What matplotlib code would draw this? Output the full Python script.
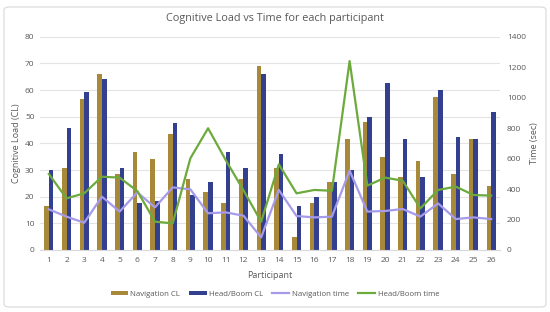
import matplotlib.pyplot as plt
import numpy as np
from matplotlib.patches import FancyBboxPatch

plt.rcParams['font.family'] = ['Open Sans', 'DejaVu Sans']

# data
participants = [str(i) for i in range(1, 27)]
nav_cl = [16.5, 30.9, 56.6, 65.9, 28.4, 36.6, 34.1, 43.4, 26.6, 21.6, 17.5, 26.6, 69.1,
          30.9, 4.8, 17.5, 25.6, 41.6, 48.1, 35.0, 27.5, 33.4, 57.5, 28.4, 41.6, 24.1]
hb_cl = [30.0, 45.8, 59.1, 64.1, 30.9, 17.5, 18.4, 47.5, 20.6, 25.6, 36.6, 30.9, 65.9,
         35.9, 16.6, 20.0, 25.6, 30.0, 50.0, 62.5, 41.6, 27.5, 60.0, 42.5, 41.6, 51.6]
nav_time = [267, 219, 179, 350, 252, 378, 280, 411, 398, 241, 247, 225, 83,
            394, 223, 214, 219, 521, 252, 256, 269, 219, 306, 203, 214, 203]
hb_time = [499, 339, 372, 481, 475, 387, 186, 175, 602, 799, 590, 392, 186,
           562, 372, 394, 389, 1240, 422, 475, 455, 273, 394, 416, 361, 357]

txt = '#595959'
grid = '#E4E4E4'

fig = plt.figure(figsize=(5.5, 3.12), dpi=100)
ax = fig.add_axes([40/550, 1-250/312, 460/550, (250-36.7)/312])
ax2 = ax.twinx()

x = np.arange(len(participants))
w = 0.26
ax.bar(x - w/2, nav_cl, w, color='#A8893A', label='Navigation CL', zorder=2)
ax.bar(x + w/2, hb_cl, w, color='#33408F', label='Head/Boom CL', zorder=2)

ax2.plot(x, nav_time, color='#A59BEA', lw=1.6, label='Navigation time')
ax2.plot(x, hb_time, color='#6DAA3C', lw=1.6, label='Head/Boom time')

ax.set_xlim(-0.5, len(participants) - 0.5)
ax.set_ylim(0, 80)
ax.set_yticks(range(0, 81, 10))
ax2.set_ylim(0, 1400)
ax2.set_yticks(range(0, 1401, 200))
ax.set_xticks(x)
ax.set_xticklabels(participants)

ax.grid(axis='y', color=grid, lw=0.8, zorder=0)
ax.set_axisbelow(True)
for a in (ax, ax2):
    for s in a.spines.values():
        s.set_visible(False)
    a.tick_params(length=0, labelsize=6, colors=txt)
ax.spines['bottom'].set_visible(True)
ax.spines['bottom'].set_color('#D9D9D9')
ax.tick_params(axis='y', pad=4)
ax2.tick_params(axis='y', pad=5)
ax.tick_params(axis='x', pad=5)

ax.set_xlabel('Participant', fontsize=6.5, color=txt, labelpad=5)
ax.set_ylabel('Cognitive Load (CL)', fontsize=6.5, color=txt, labelpad=3)
ax2.set_ylabel('Time (sec)', fontsize=6.5, color=txt, labelpad=3)

fig.text(0.5, 1-19/312, 'Cognitive Load vs Time for each participant',
         ha='center', va='center', fontsize=7.8, color=txt)

h1, l1 = ax.get_legend_handles_labels()
h2, l2 = ax2.get_legend_handles_labels()
fig.legend(h1 + h2, l1 + l2, loc='center', bbox_to_anchor=(0.5, 1-294/312),
           ncol=4, frameon=False, fontsize=5.6, labelcolor=txt,
           handlelength=2.2, handleheight=0.5, columnspacing=1.2, handletextpad=0.3)

fig.patches.append(FancyBboxPatch((4/550, 5/312), 542/550, 300/312,
                                  boxstyle='round,pad=0,rounding_size=0.01',
                                  transform=fig.transFigure, fc='none',
                                  ec='#D9D9D9', lw=0.8))

fig.savefig('out.png', dpi=100)
